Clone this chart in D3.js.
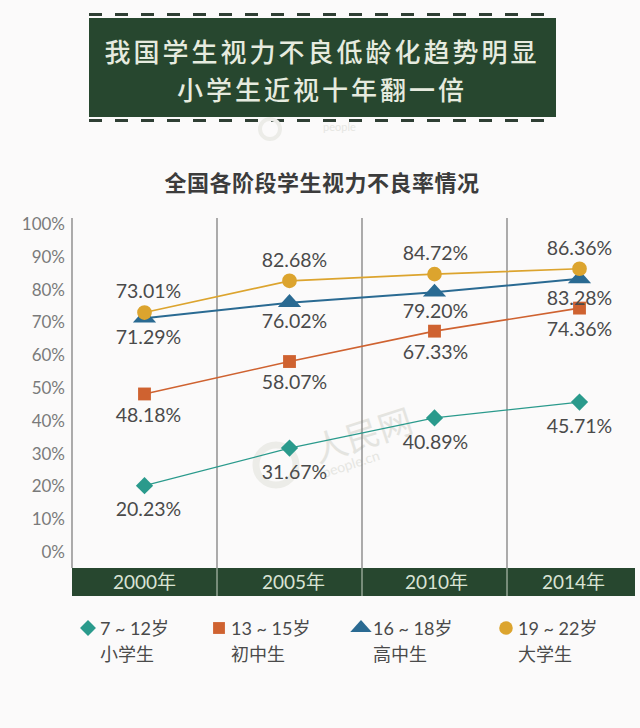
<!DOCTYPE html>
<html lang="zh">
<head>
<meta charset="UTF-8">
<title>全国各阶段学生视力不良率情况</title>
<script src="https://d3js.org/d3.v7.min.js"></script>
<style>
    html, body { margin: 0; padding: 0; background: #fbfafa; }
    svg { display: block; font-family: Lato, "Noto Sans CJK SC", sans-serif; }
</style>
</head>
<body>
<svg id="chart" width="640" height="728"></svg>
<script>
// data
const years = ["2000年", "2005年", "2010年", "2014年"];
const primary = [20.23, 31.67, 40.89, 45.71];
const junior = [48.18, 58.07, 67.33, 74.36];
const senior = [71.29, 76.02, 79.20, 83.28];
const college = [73.01, 82.68, 84.72, 86.36];
const ageLabels = ["7 ~ 12岁", "13 ~ 15岁", "16 ~ 18岁", "19 ~ 22岁"];
const groupLabels = ["小学生", "初中生", "高中生", "大学生"];
const yTicks = [0, 10, 20, 30, 40, 50, 60, 70, 80, 90, 100];
const headline = ["我国学生视力不良低龄化趋势明显", "小学生近视十年翻一倍"];
const subtitle = "全国各阶段学生视力不良率情况";

const cjk = '"Noto Sans CJK SC", sans-serif';
const green = "#27472f";
const textColor = "#4a4a4a";

const svg = d3.select("#chart");

const series = [
    { values: primary, color: "#2a9a8c", symbol: d3.symbolDiamond2, size: 190, squash: "", width: 1.2, dy: 24, legendX: 88 },
    { values: junior, color: "#cf6230", symbol: d3.symbolSquare, size: 165, squash: "", width: 1.6, dy: 21, legendX: 219 },
    { values: senior, color: "#2a6a92", symbol: d3.symbolTriangle, size: 150, squash: "scale(1.25,0.8)", width: 2, dy: 19, legendX: 361 },
    { values: college, color: "#dca42e", symbol: d3.symbolCircle, size: 170, squash: "", width: 1.7, dy: -21, legendX: 506 }
];

const x = d3.scaleBand().domain(years).range([72, 652]);
const y = d3.scaleLinear().domain([0, 100]).range([552, 224]);
const bandTop = 568, bandBottom = 596, plotRight = 635;
// the labels sit a little off the column centres in the original
const labelShift = [4, 5, 1, 0];
const yearShift = [0, 4, 2, -6];

// header board
const board = svg.append("g");
board.append("rect").attr("x", 89).attr("y", 18).attr("width", 467).attr("height", 99).attr("fill", green);
[14.5, 120.5].forEach(dashY => {
    board.append("line")
        .attr("x1", 89).attr("x2", 556).attr("y1", dashY).attr("y2", dashY)
        .attr("stroke", "#2f3f34").attr("stroke-width", 3).attr("stroke-dasharray", "13 13");
});
board.selectAll("text.headline").data(headline).join("text")
    .attr("class", "headline")
    .attr("x", 322)
    .attr("y", (d, i) => 62 + i * 38)
    .attr("text-anchor", "middle")
    .attr("fill", "#e6ebdf")
    .style("font-family", cjk)
    .style("font-size", "26px")
    .style("font-weight", 500)
    .style("letter-spacing", "3px")
    .text(d => d);

svg.append("text")
    .attr("x", 322).attr("y", 191)
    .attr("text-anchor", "middle")
    .attr("fill", "#3c3c3c")
    .style("font-family", cjk)
    .style("font-size", "22px")
    .style("font-weight", 700)
    .style("letter-spacing", "0.5px")
    .text(subtitle);

// faint watermarks
svg.append("text").attr("x", 318).attr("y", 463)
    .attr("fill", "#e4e4e0").attr("transform", "rotate(-18 318 463)")
    .style("font-family", cjk).style("font-size", "34px").text("人民网");
svg.append("text").attr("x", 324).attr("y", 478)
    .attr("fill", "#e6e6e2").attr("transform", "rotate(-18 324 478)")
    .style("font-size", "14px").text("people.cn");
svg.append("circle").attr("cx", 276).attr("cy", 465).attr("r", 20)
    .attr("fill", "none").attr("stroke", "#ecece8").attr("stroke-width", 7);
svg.append("text").attr("x", 323).attr("y", 131)
    .attr("fill", "#e6e6e2").style("font-size", "11px").text("people");
svg.append("circle").attr("cx", 270).attr("cy", 129).attr("r", 10)
    .attr("fill", "none").attr("stroke", "#ecece8").attr("stroke-width", 4);

// year band along the bottom
svg.append("rect")
    .attr("x", x.range()[0]).attr("y", bandTop)
    .attr("width", plotRight - x.range()[0]).attr("height", bandBottom - bandTop)
    .attr("fill", green);

// column separators
svg.selectAll("line.sep").data(years).join("line")
    .attr("class", "sep")
    .attr("x1", d => x(d)).attr("x2", d => x(d))
    .attr("y1", 218).attr("y2", bandTop)
    .attr("stroke", "#808080").attr("stroke-width", 1.3);
svg.selectAll("line.sepBand").data(years.slice(1)).join("line")
    .attr("class", "sepBand")
    .attr("x1", d => x(d)).attr("x2", d => x(d))
    .attr("y1", bandTop).attr("y2", bandBottom)
    .attr("stroke", "#c9d3c6").attr("stroke-width", 1);

svg.selectAll("text.year").data(years).join("text")
    .attr("class", "year")
    .attr("x", (d, i) => x(d) + x.bandwidth() / 2 + yearShift[i])
    .attr("y", 589)
    .attr("text-anchor", "middle")
    .attr("fill", "#d9e3d4")
    .style("font-size", "19px")
    .text(d => d);

// y axis labels only
const yAxis = d3.axisLeft(y).tickValues(yTicks).tickSize(0).tickPadding(7).tickFormat(d => d + "%");
svg.append("g").attr("transform", "translate(72,0)").call(yAxis)
    .call(g => g.select(".domain").remove())
    .selectAll("text")
    .attr("fill", "#7a7a7a")
    .style("font-family", "Lato, sans-serif")
    .style("font-size", "17px");

// lines, markers, value labels
const line = d3.line().x((d, i) => x(years[i]) + x.bandwidth() / 2).y(d => y(d));

series.forEach(s => {
    svg.append("path")
        .attr("d", line(s.values))
        .attr("fill", "none")
        .attr("stroke", s.color)
        .attr("stroke-width", s.width);
});

series.forEach(s => {
    svg.selectAll(null).data(s.values).join("path")
        .attr("d", d3.symbol(s.symbol, s.size))
        .attr("transform", (d, i) => `translate(${x(years[i]) + x.bandwidth() / 2},${y(d)}) ${s.squash}`)
        .attr("fill", s.color);
    svg.selectAll(null).data(s.values).join("text")
        .attr("x", (d, i) => x(years[i]) + x.bandwidth() / 2 + labelShift[i])
        .attr("y", d => y(d) + s.dy)
        .attr("dy", "0.35em")
        .attr("text-anchor", "middle")
        .attr("fill", textColor)
        .style("font-size", "19.5px")
        .text(d => d.toFixed(2) + "%");
});

// legend
series.forEach((s, i) => {
    const g = svg.append("g");
    g.append("path")
        .attr("d", d3.symbol(s.symbol, s.size * 0.85))
        .attr("transform", `translate(${s.legendX},628) ${s.squash}`)
        .attr("fill", s.color);
    g.append("text")
        .attr("x", s.legendX + 12).attr("y", 635)
        .attr("fill", textColor)
        .style("font-size", "18px")
        .text(ageLabels[i]);
    g.append("text")
        .attr("x", s.legendX + 12).attr("y", 661)
        .attr("fill", textColor)
        .style("font-family", cjk)
        .style("font-size", "18px")
        .text(groupLabels[i]);
});
</script>
</body>
</html>
